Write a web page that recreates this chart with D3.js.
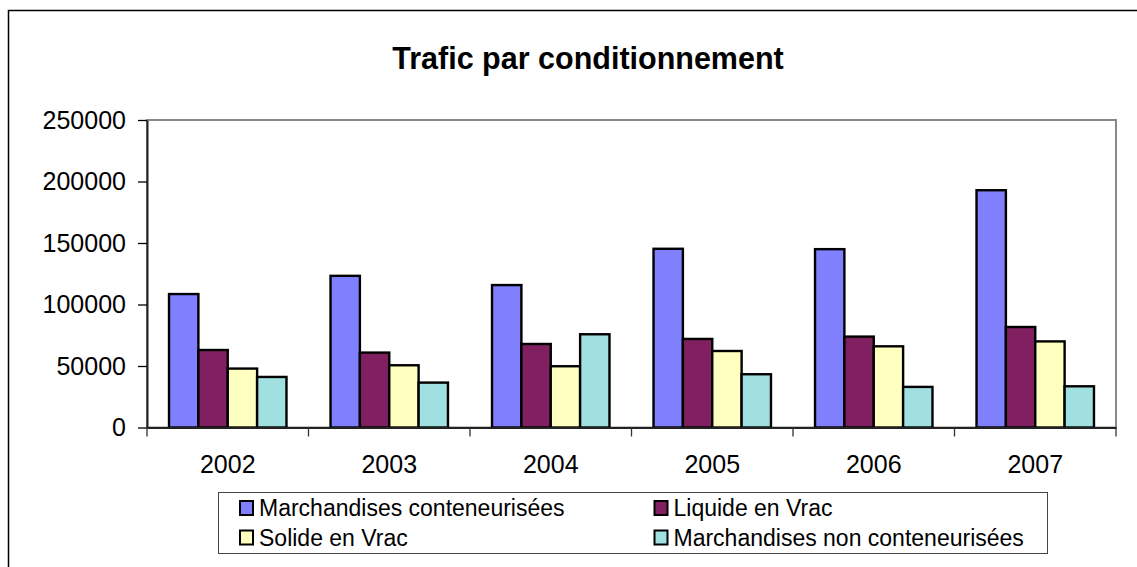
<!DOCTYPE html>
<html>
<head>
<meta charset="utf-8">
<script src="https://cdn.jsdelivr.net/npm/d3@7"></script>
<style>
  body { margin: 0; background: #fff; }
  text { font-family: "Liberation Sans", Arial, sans-serif; fill: #000; }
</style>
</head>
<body>
<div id="vis"></div>
<script>
// data
const years = ['2002', '2003', '2004', '2005', '2006', '2007'];
const seriesNames = ['Marchandises conteneurisées', 'Liquide en Vrac', 'Solide en Vrac', 'Marchandises non conteneurisées'];
const conteneurisees = [108500, 123300, 115800, 145300, 145000, 192900];
const liquideVrac = [63000, 60900, 67900, 72000, 73900, 81700];
const solideVrac = [47900, 50600, 49800, 62200, 66000, 70000];
const nonConteneurisees = [41100, 36500, 75800, 43300, 33000, 33500];
const yTicks = [0, 50000, 100000, 150000, 200000, 250000];
const colors = ['#8080ff', '#802060', '#ffffc0', '#a0e0e0'];

const allValues = [conteneurisees, liquideVrac, solideVrac, nonConteneurisees];
const data = years.map((yr, i) => ({year: yr, values: allValues.map((s, k) => ({key: seriesNames[k], value: s[i], color: colors[k]}))}));

const W = 1137, H = 567;
const plot = {left: 147, right: 1116, top: 120, bottom: 427.5};

const svg = d3.select('#vis').append('svg')
    .attr('width', W).attr('height', H);

// outer chart frame (runs off the right and bottom of the picture)
svg.append('rect')
    .attr('x', 8.5).attr('y', 10.5)
    .attr('width', W + 20).attr('height', H + 20)
    .attr('fill', 'none').attr('stroke', '#000').attr('stroke-width', 1.5);

// title
svg.append('text')
    .attr('x', 588).attr('y', 69)
    .attr('text-anchor', 'middle')
    .style('font-size', '30.5px').style('font-weight', 'bold')
    .text('Trafic par conditionnement');

// scales
const x0 = d3.scaleBand().domain(years).range([plot.left, plot.right]).padding(0);
const x1 = d3.scaleBand().domain(seriesNames).range([0, x0.bandwidth()])
    .paddingInner(0).paddingOuter(0.75);
const y = d3.scaleLinear().domain([0, 250000]).range([plot.bottom, plot.top]);

// plot area border (grey)
svg.append('rect')
    .attr('x', plot.left).attr('y', plot.top)
    .attr('width', plot.right - plot.left).attr('height', plot.bottom - plot.top)
    .attr('fill', 'none').attr('stroke', '#888').attr('stroke-width', 2);

// bars
const groups = svg.selectAll('.group')
    .data(data)
    .join('g')
    .attr('class', 'group')
    .attr('transform', d => `translate(${x0(d.year)},0)`);

groups.selectAll('rect')
    .data(d => d.values)
    .join('rect')
    .attr('x', d => x1(d.key))
    .attr('y', d => y(d.value))
    .attr('width', x1.bandwidth())
    .attr('height', d => y(0) - y(d.value))
    .attr('fill', d => d.color)
    .attr('stroke', '#000').attr('stroke-width', 2.4);

// y axis
const yAxis = d3.axisLeft(y)
    .tickValues(yTicks)
    .tickFormat(d3.format('d'))
    .tickSize(9).tickSizeOuter(0).tickPadding(12);
const gy = svg.append('g')
    .attr('transform', `translate(${plot.left},0)`)
    .call(yAxis);
gy.selectAll('text').style('font-size', '25px').style('font-family', '"Liberation Sans", Arial, sans-serif');
gy.selectAll('line').attr('stroke', '#000').attr('stroke-width', 1.3);
gy.select('.domain').attr('stroke', '#222').attr('stroke-width', 2);

// x axis: labels centred, ticks on category boundaries
const xAxis = d3.axisBottom(x0).tickSize(0).tickSizeOuter(0).tickPadding(28);
const gx = svg.append('g')
    .attr('transform', `translate(0,${plot.bottom})`)
    .call(xAxis);
gx.selectAll('text').style('font-size', '25px').style('font-family', '"Liberation Sans", Arial, sans-serif');
gx.select('.domain').attr('stroke', '#222').attr('stroke-width', 2);

const bounds = years.map(yr => x0(yr)).concat([x0(years[years.length - 1]) + x0.bandwidth()]);
gx.selectAll('.bound')
    .data(bounds)
    .join('line')
    .attr('class', 'bound')
    .attr('x1', d => d).attr('x2', d => d)
    .attr('y1', 0).attr('y2', 9)
    .attr('stroke', '#333').attr('stroke-width', 1.3);

// legend
const legend = svg.append('g');
legend.append('rect')
    .attr('x', 218.5).attr('y', 492.5)
    .attr('width', 829).attr('height', 61)
    .attr('fill', '#fff').attr('stroke', '#444').attr('stroke-width', 1);

const legendPos = [[240, 501], [654.5, 501], [240, 530.5], [654.5, 530.5]];
const items = legend.selectAll('.item')
    .data(seriesNames)
    .join('g')
    .attr('class', 'item')
    .attr('transform', (d, i) => `translate(${legendPos[i][0]},${legendPos[i][1]})`);

items.append('rect')
    .attr('width', 13).attr('height', 14)
    .attr('fill', (d, i) => colors[i])
    .attr('stroke', '#000').attr('stroke-width', 2);

items.append('text')
    .attr('x', 19).attr('y', 7)
    .attr('dy', '0.36em')
    .style('font-size', '23px')
    .text(d => d);
</script>
</body>
</html>
